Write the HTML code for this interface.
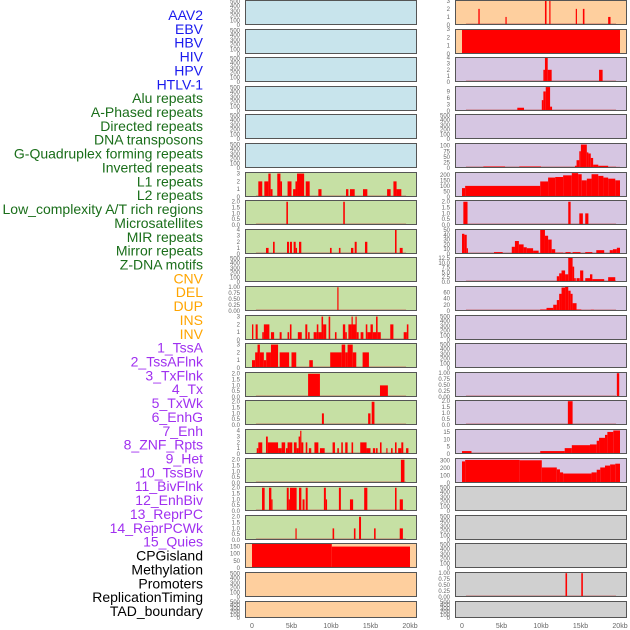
<!DOCTYPE html>
<html><head><meta charset="utf-8"><style>
html,body{margin:0;padding:0;background:#fff;}
svg{display:block;font-family:"Liberation Sans",sans-serif;}
</style></head><body>
<svg id="c" width="630" height="630"></svg>
<script>
const labels=["AAV2","EBV","HBV","HIV","HPV","HTLV-1","Alu repeats","A-Phased repeats","Directed repeats","DNA transposons","G-Quadruplex forming repeats","Inverted repeats","L1 repeats","L2 repeats","Low_complexity A/T rich regions","Microsatellites","MIR repeats","Mirror repeats","Z-DNA motifs","CNV","DEL","DUP","INS","INV","1_TssA","2_TssAFlnk","3_TxFlnk","4_Tx","5_TxWk","6_EnhG","7_Enh","8_ZNF_Rpts","9_Het","10_TssBiv","11_BivFlnk","12_EnhBiv","13_ReprPC","14_ReprPCWk","15_Quies","CPGisland","Methylation","Promoters","ReplicationTiming","TAD_boundary"];
const labelGroups=[6,13,5,15,5];
const groupColors=["#1a1aee","#1a6e1a","#ffa500","#a030f0","#000000"];
const xTicks=[0,5,10,15,20];
const xTickLabels=["0","5kb","10kb","15kb","20kb"];

// bars: [startKb, endKb, value]
const L6=[[0.8,1.3,2],[1.56,2.07,2],[2.07,2.36,3],[2.36,2.6,1],[3.2,3.6,3],[3.6,3.8,2],[4.5,5.0,2],[5.2,5.5,1],[5.5,5.7,2],[5.7,6.6,3],[6.8,7.3,2],[8.4,8.8,1],[11.9,12.2,1],[12.4,13.0,1],[14.05,14.6,1],[17.1,17.55,1],[17.9,18.3,2],[18.3,18.9,1]];
const L7=[[4.35,4.55,2],[11.55,11.75,2]];
const L8=[[1.77,2.1,1],[2.66,2.87,2],[4.43,4.68,2],[4.8,5.06,2],[5.27,5.53,2],[5.53,5.7,1],[5.95,6.24,2],[9.87,10.08,1],[11.0,11.2,1],[12.53,12.83,1],[13.0,13.25,2],[14.3,14.6,2],[18.1,18.3,4],[18.7,19.07,1]];
const L10=[[10.8,10.95,1]];
const L11=[[0,0.17,2],[0.46,0.72,2],[1.3,1.5,1],[1.5,2.2,2],[2.4,2.8,1],[3.5,3.75,1],[4.5,4.7,1],[4.8,5.0,2],[5.8,6.3,1],[6.75,7.0,2],[7.1,7.3,1],[7.8,8.2,1],[8.2,8.4,2],[8.4,8.8,1],[8.8,9.0,3],[9.0,9.4,2],[9.7,9.9,3],[10.5,10.7,1],[11.5,11.8,2],[11.8,12.0,1],[12.2,12.6,2],[12.6,12.7,3],[12.7,13.1,2],[13.1,13.25,3],[13.25,13.5,1],[13.75,14.1,1],[14.4,14.6,2],[14.6,15.0,1],[15.0,15.3,2],[15.3,15.7,1],[15.7,15.9,3],[15.9,16.3,1],[17.5,17.9,2],[19.2,19.6,1],[19.6,19.8,2]];
const L12=[[0,0.4,1],[0.4,0.7,2],[0.7,1.0,3],[1.0,1.5,2],[1.5,1.8,1],[1.8,2.4,2],[2.4,3.3,3],[3.5,4.7,2],[5.0,5.6,2],[7.25,7.7,1],[9.9,11.35,2],[11.35,11.8,3],[11.8,12.1,2],[12.1,12.75,3],[12.75,13.2,2],[14.0,14.8,2]];
const L13=[[7.1,8.6,2],[16.2,17.2,1]];
const L14=[[8.85,9.1,1],[14.7,15.0,1],[15.15,15.5,2]];
const L15=[[0.6,0.8,1],[0.8,1.3,2],[1.77,2.0,3],[2.0,3.3,2],[3.3,3.75,1],[3.75,4.2,2],[4.3,4.5,1],[4.5,4.8,2],[4.8,5.1,2],[5.3,5.65,2],[5.65,5.9,1],[5.9,6.1,3],[6.1,6.25,4],[6.25,6.5,2],[6.8,7.0,2],[7.2,7.5,1],[7.9,8.4,2],[8.6,9.2,1],[10.2,10.5,2],[10.8,11.0,1],[11.3,11.5,2],[11.8,12.1,2],[12.6,12.8,2],[13.7,14.5,2],[14.5,15.0,1],[15.3,15.6,1],[15.7,15.9,1],[16.2,16.4,2],[17.0,17.1,1],[17.6,17.8,1],[18.1,18.3,2],[18.5,18.9,1],[18.9,19.15,2],[19.5,19.8,1]];
const L16=[[18.85,19.3,2]];
const L17=[[1.27,1.6,2],[2.15,2.45,2],[2.45,2.6,1],[4.4,4.65,2],[4.65,4.8,1],[4.8,5.65,2],[5.95,6.25,2],[6.4,6.65,1],[6.8,7.05,2],[9.1,9.35,2],[9.35,9.5,1],[11.0,11.25,2],[12.4,12.8,1],[14.2,14.6,2],[18.1,18.3,2],[18.7,19.1,1]];
const L18=[[5.5,5.65,1],[10.2,10.4,1],[12.9,13.1,1],[13.55,13.8,2],[15.45,15.65,1],[18.7,19.1,1]];
const L19=[[0,10.1,180],[10.1,20,150]];
const R0=[[2.07,2.24,2],[5.5,5.65,1],[10.5,10.7,3],[11.05,11.2,3],[14.4,14.55,2],[15.3,15.5,2],[18.5,18.8,1]];
const R1=[[0,20,3]];
const R2=[[10.3,10.5,2],[10.5,10.85,4],[10.85,11.35,2],[17.35,17.8,2]];
const R3=[[7.0,7.85,1.5],[10.1,10.3,5],[10.3,10.6,9],[10.6,11.15,11],[11.15,11.4,2]];
const R5=[[2.7,5.45,7],[6.4,6.9,4],[7.25,10.0,7],[14.3,14.5,10],[14.5,14.85,35],[14.85,15.05,75],[15.05,15.8,105],[15.8,16.0,70],[16.0,16.3,65],[16.3,16.6,45],[16.6,17.25,15],[17.25,18.5,10],[18.5,20,5]];
const R6=[[0,0.4,80],[0.4,9.9,100],[9.9,10.9,140],[10.9,11.8,175],[11.8,12.8,180],[12.8,13.9,195],[13.9,14.7,215],[14.7,15.15,205],[15.15,15.8,150],[15.8,16.4,165],[16.4,17.25,205],[17.25,17.9,190],[17.9,18.5,175],[18.5,19.4,165],[19.4,20,150]];
const R7=[[0.17,0.7,2],[13.45,13.75,2],[14.85,15.3,1],[15.6,16.0,1]];
const R8=[[0,0.3,42],[0.3,0.6,40],[0.6,0.7,12],[4.05,5.15,4],[6.3,6.7,15],[6.7,7.2,27],[7.2,7.8,20],[7.8,8.2,14],[8.2,9.0,12],[9.0,9.7,7],[9.9,10.5,50],[10.5,10.9,38],[10.9,11.35,30],[11.35,11.8,10],[11.8,12.8,3],[13.1,13.75,4],[14.0,15.0,4],[15.6,16.5,4],[17.0,18.0,8],[18.7,19.1,8],[19.1,19.6,10],[19.6,20,13]];
const R9=[[12.0,12.3,3],[12.3,12.6,4.5],[12.6,13.05,6],[13.05,13.45,4],[13.45,14.0,12.5],[14.0,14.2,8],[14.2,14.4,2],[14.5,14.9,2],[14.95,15.35,6],[15.6,16.2,2],[16.2,16.5,4],[16.5,18.0,1.5],[18.5,19.4,2.5]];
const R10=[[0.6,1.65,3],[9.9,10.7,5],[10.7,11.55,10],[11.55,12.0,20],[12.0,12.3,35],[12.3,12.6,55],[12.6,13.05,75],[13.05,13.45,80],[13.45,13.75,65],[13.75,14.0,55],[14.0,14.5,25],[14.5,15.1,5],[16.3,16.7,4],[19.1,19.7,3]];
const R13=[[19.6,19.9,1]];
const R14=[[13.4,14.0,2]];
const R15=[[0,1.2,2],[1.2,9.9,0.5],[9.9,13.0,2],[13.0,13.9,4],[13.9,16.2,6],[16.2,17.05,6.5],[17.05,17.35,9],[17.35,18.1,11],[18.1,18.4,13],[18.4,19.15,15],[19.15,20,16]];
const R16=[[0,0.4,285],[0.4,7.3,305],[7.3,10.1,300],[10.1,12.0,205],[12.0,12.4,180],[12.4,12.8,140],[12.8,16.4,125],[16.4,17.05,140],[17.05,17.5,175],[17.5,18.1,205],[18.1,18.75,230],[18.75,19.4,245],[19.4,20,255]];
const R20=[[13.1,13.3,1],[15.1,15.3,1]];

const BLUE="#c8e4ec",GREEN="#c6e0a4",PEACH="#fecf9e",LAV="#d6c6e2",GRAY="#d0d0d0";
const T500=[0,100,200,300,400,500];
const panels=[
[0,0,BLUE,530,T500,null,"aav2"],[1,0,BLUE,530,T500,null,"hbv"],[2,0,BLUE,530,T500,null,"hpv"],[3,0,BLUE,530,T500,null,"alu"],[4,0,BLUE,530,T500,null,"directed"],[5,0,BLUE,530,T500,null,"g-quad"],
[6,0,GREEN,3.2,[0,1,2,3],L6,"l1"],[7,0,GREEN,2.15,[0,0.5,1,1.5,2],L7,"low-complexity"],[8,0,GREEN,4.1,[0,1,2,3,4],L8,"mir"],[9,0,GREEN,530,T500,null,"z-dna"],[10,0,GREEN,1.05,[0,0.25,0.5,0.75,1],L10,"del"],
[11,0,GREEN,3.2,[0,1,2,3],L11,"ins"],[12,0,GREEN,3.2,[0,1,2,3],L12,"tssa"],[13,0,GREEN,2.15,[0,0.5,1,1.5,2],L13,"txflnk"],[14,0,GREEN,2.15,[0,0.5,1,1.5,2],L14,"txwk"],
[15,0,GREEN,4.3,[0,1,2,3,4],L15,"enh"],[16,0,GREEN,2.15,[0,0.5,1,1.5,2],L16,"het"],[17,0,GREEN,2.15,[0,0.5,1,1.5,2],L17,"bivflnk"],[18,0,GREEN,2.15,[0,0.5,1,1.5,2],L18,"reprpc"],
[19,0,PEACH,175,[0,50,100,150],L19,"cpgisland"],[20,0,PEACH,530,T500,null,"promoters"],[21,0,PEACH,530,T500,null,"tad"],
[0,1,PEACH,3.1,[0,1,2,3],R0,"aav2"],[1,1,PEACH,3.0,[0,1,2,3],R1,"hbv"],[2,1,LAV,4.1,[0,1,2,3,4],R2,"hpv"],[3,1,LAV,11.5,[0,3,6,9],R3,"alu"],[4,1,LAV,530,T500,null,"directed"],
[5,1,LAV,112,[0,25,50,75,100],R5,"g-quad"],[6,1,LAV,225,[0,50,100,150,200],R6,"l1"],[7,1,LAV,2.15,[0,0.5,1,1.5,2],R7,"low-complexity"],[8,1,LAV,52,[0,10,20,30,40,50],R8,"mir"],
[9,1,LAV,13,[0,2.5,5,7.5,10,12.5],R9,"z-dna"],[10,1,LAV,80,[0,20,40,60],R10,"del"],[11,1,LAV,530,T500,null,"ins"],[12,1,LAV,530,T500,null,"tssa"],
[13,1,LAV,1.05,[0,0.25,0.5,0.75,1],R13,"txflnk"],[14,1,LAV,2.1,[0,0.5,1,1.5,2],R14,"txwk"],[15,1,LAV,17,[0,5,10,15],R15,"enh"],[16,1,LAV,330,[0,100,200,300],R16,"het"],
[17,1,GRAY,530,T500,null,"bivflnk"],[18,1,GRAY,530,T500,null,"reprpc"],[19,1,GRAY,530,T500,null,"cpgisland"],[20,1,GRAY,1.05,[0,0.25,0.5,0.75,1],R20,"promoters"],[21,1,GRAY,530,T500,null,"tad"]
];

const NS="http://www.w3.org/2000/svg";
const svg=document.getElementById('c');
function mk(tag,attrs,parent){const e=document.createElementNS(NS,tag);for(const k in attrs)e.setAttribute(k,attrs[k]);(parent||svg).appendChild(e);return e;}
const colX=[245,455], zeroX=[252,462], pxPerKb=7.9, panelW=172;
function xScale(col,kb){return zeroX[col]+kb*pxPerKb;}
function rowTop(r){return Math.round(r*28.6);}
function rowH(r){return r===21?17:25;}
function fmt(t,ticks){const dec=ticks.some(v=>v%1!==0);if(!dec)return String(t);const two=ticks.some(v=>Math.round(v*100)%50!==0);return two?t.toFixed(2):t.toFixed(1);}

let li=0;
labelGroups.forEach((n,g)=>{for(let k=0;k<n;k++){const t=mk('text',{x:203,y:15+li*13.86,'text-anchor':'end','dominant-baseline':'central','font-size':14,fill:groupColors[g]});


t.textContent=labels[li];li++;}});

panels.forEach(p=>{
  const [r,col,bg,ymax,ticks,bars,name]=p;
  const top=rowTop(r),h=rowH(r),x0=colX[col];
  const g=mk('g',{});
  
  
  mk('rect',{x:x0,y:top,width:panelW,height:h,fill:bg},g);
  const ys=v=>top+h-Math.min(v,ymax)/ymax*h;
  if(bars){
    mk('rect',{x:xScale(col,0.5),y:top+h-1.5,width:19*pxPerKb,height:1.5,fill:'#c05050',opacity:0.7},g);
    bars.forEach(b=>{
      const rc=mk('rect',{x:xScale(col,b[0]),y:ys(b[2]),width:Math.max(1.2,(b[1]-b[0])*pxPerKb),height:top+h-ys(b[2]),fill:'#ff0000'},g);
      
      
    });
  }
  mk('rect',{x:x0+0.5,y:top+0.5,width:panelW-1,height:h-1,fill:'none',stroke:'#555','stroke-width':1},g);
  ticks.forEach(t=>{
    const tx=mk('text',{x:x0-5,y:ys(t)+2,'text-anchor':'end','font-size':6,fill:'#666'},g);
    
    
    tx.textContent=fmt(t,ticks);
  });
});

[0,1].forEach(col=>{xTicks.forEach((t,i)=>{const tx=mk('text',{x:xScale(col,t),y:628,'text-anchor':'middle','font-size':7,fill:'#666'});


tx.textContent=xTickLabels[i];});});
</script>
</body></html>
